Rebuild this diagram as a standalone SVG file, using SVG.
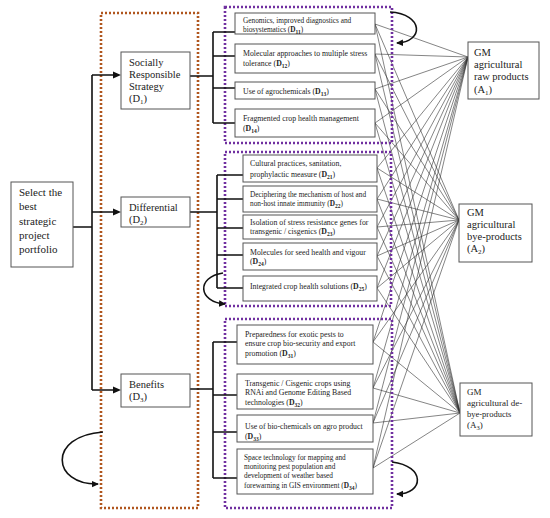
<svg xmlns="http://www.w3.org/2000/svg" width="550" height="518" viewBox="0 0 550 518">
<style>
text{font-family:"Liberation Serif","Times New Roman",serif;fill:#222}
.box{fill:#fff;stroke:#555;stroke-width:1}
.big{font-size:10.5px}
.sm{font-size:7.8px}
.xs{font-size:7.3px}
.conn{stroke:#111;stroke-width:1.6;fill:none}
.edge{stroke:#333;stroke-width:0.6;fill:none}
.arc{stroke:#111;stroke-width:1.6;fill:none;marker-end:url(#ah)}
.brown{fill:none;stroke:#b0561e;stroke-width:2.6;stroke-dasharray:2 2}
.purple{fill:none;stroke:#7030a0;stroke-width:2.6;stroke-dasharray:2 2}
</style>
<defs>
<marker id="ah" markerWidth="8" markerHeight="8" refX="6" refY="4" orient="auto" markerUnits="userSpaceOnUse">
<path d="M0,0.8 L7,4 L0,7.2 Z" fill="#111"/>
</marker>
</defs>
<rect width="550" height="518" fill="#fff"/>

<!-- edges -->
<g id="edges">
<g class="edge">
<path d="M375,24L468,57M375,24L459,220M375,24L460,413"/>
<path d="M375,54L468,57M375,54L459,220M375,54L460,413"/>
<path d="M375,89L468,57M375,89L459,220M375,89L460,413"/>
<path d="M375,123L468,57M375,123L459,220M375,123L460,413"/>
<path d="M377,168L468,57M377,168L459,220M377,168L460,413"/>
<path d="M377,199L468,57M377,199L459,220M377,199L460,413"/>
<path d="M377,227L468,57M377,227L459,220M377,227L460,413"/>
<path d="M377,256L468,57M377,256L459,220M377,256L460,413"/>
<path d="M377,288L468,57M377,288L459,220M377,288L460,413"/>
<path d="M373,342L468,57M373,342L459,220M373,342L460,413"/>
<path d="M373,388L468,57M373,388L459,220M373,388L460,413"/>
<path d="M373,423L468,57M373,423L459,220M373,423L460,413"/>
<path d="M373,468L468,57M373,468L459,220M373,468L460,413"/>
</g>
</g>

<!-- dotted groupings -->
<rect class="brown" x="101" y="13" width="97" height="495"/>
<rect class="purple" x="225" y="7" width="167" height="136"/>
<rect class="purple" x="225" y="152" width="166" height="154"/>
<rect class="purple" x="225" y="319" width="167" height="189"/>

<!-- connectors -->
<g id="connectors">
<path class="conn" d="M73,227H92M92,75V390"/>
<path class="conn" d="M92,75H114M92,212H114M92,390H114"/>
<path d="M113,71.5L121,75L113,78.5Z M113,208.5L121,212L113,215.5Z M113,386.5L121,390L113,393.5Z" fill="#111"/>
<path class="conn" d="M190,76H213M213,32V123M213,32H235M213,56H235M213,88H235M213,123H235"/>
<path class="conn" d="M190,212H217M217,175V288M217,175H243M217,199H243M217,228H243M217,255H243M217,288H243"/>
<path class="conn" d="M190,389H213M213,342V478M213,342H237M213,395H237M213,432H237M213,478H237"/>
<path class="arc" d="M390,12C424,14,424,42,397,43"/>
<path class="arc" d="M223,273C196,277,198,302,225,304"/>
<path class="arc" d="M392,462C426,466,424,494,397,494"/>
<path class="arc" d="M103,432C47,436,52,485,98,484"/>
</g>

<g id="root">
<rect class="box" x="11" y="182" width="62" height="85"/>
<text x="19" font-size="11"><tspan x="19" y="196">Select the</tspan><tspan x="19" y="210">best</tspan><tspan x="19" y="224.5">strategic</tspan><tspan x="19" y="239">project</tspan><tspan x="19" y="253">portfolio</tspan></text>
</g>

<g id="D1">
<rect class="box" x="121" y="52" width="69" height="57"/>
<text class="big"><tspan x="129" y="66">Socially</tspan><tspan x="129" y="78">Responsible</tspan><tspan x="129" y="90">Strategy</tspan><tspan x="129" y="102">(D<tspan dy="2" font-size="7">1</tspan><tspan dy="-2">)</tspan></tspan></text>
</g>
<g id="D2">
<rect class="box" x="121" y="197" width="69" height="30"/>
<text class="big"><tspan x="129" y="211">Differential</tspan><tspan x="129" y="223">(D<tspan dy="2" font-size="7">2</tspan><tspan dy="-2">)</tspan></tspan></text>
</g>
<g id="D3">
<rect class="box" x="121" y="374" width="69" height="33"/>
<text class="big"><tspan x="129" y="388">Benefits</tspan><tspan x="129" y="400">(D<tspan dy="2" font-size="7">3</tspan><tspan dy="-2">)</tspan></tspan></text>
</g>

<g id="D11">
<rect class="box" x="235" y="13" width="140" height="21"/>
<text class="xs"><tspan x="243" y="23">Genomics, improved diagnostics and</tspan><tspan x="243" y="32">biosystematics (<tspan font-weight="bold">D<tspan dy="1.5" font-size="5.5">11</tspan></tspan><tspan dy="-1.5">)</tspan></tspan></text>
</g>
<g id="D12">
<rect class="box" x="235" y="44" width="140" height="29"/>
<text class="sm"><tspan x="243" y="56">Molecular approaches to multiple stress</tspan><tspan x="243" y="66">tolerance (<tspan font-weight="bold">D<tspan dy="1.5" font-size="5.5">12</tspan></tspan><tspan dy="-1.5">)</tspan></tspan></text>
</g>
<g id="D13">
<rect class="box" x="235" y="82" width="140" height="17"/>
<text class="sm"><tspan x="243" y="94">Use of agrochemicals (<tspan font-weight="bold">D<tspan dy="1.5" font-size="5.5">13</tspan></tspan><tspan dy="-1.5">)</tspan></tspan></text>
</g>
<g id="D14">
<rect class="box" x="235" y="109" width="140" height="28"/>
<text class="sm"><tspan x="243" y="121">Fragmented crop health management</tspan><tspan x="243" y="131">(<tspan font-weight="bold">D<tspan dy="1.5" font-size="5.5">14</tspan></tspan><tspan dy="-1.5">)</tspan></tspan></text>
</g>

<g id="D21">
<rect class="box" x="243" y="155" width="134" height="27"/>
<text class="sm"><tspan x="250" y="166">Cultural practices, sanitation,</tspan><tspan x="250" y="177">prophylactic measure (<tspan font-weight="bold">D<tspan dy="1.5" font-size="5.5">21</tspan></tspan><tspan dy="-1.5">)</tspan></tspan></text>
</g>
<g id="D22">
<rect class="box" x="243" y="186" width="134" height="26"/>
<text class="xs"><tspan x="250" y="196.5">Deciphering the mechanism of host and</tspan><tspan x="250" y="206">non-host innate immunity (<tspan font-weight="bold">D<tspan dy="1.5" font-size="5.5">22</tspan></tspan><tspan dy="-1.5">)</tspan></tspan></text>
</g>
<g id="D23">
<rect class="box" x="243" y="215" width="134" height="24"/>
<text class="sm"><tspan x="250" y="225">Isolation of stress resistance genes for</tspan><tspan x="250" y="234">transgenic / cisgenics (<tspan font-weight="bold">D<tspan dy="1.5" font-size="5.5">23</tspan></tspan><tspan dy="-1.5">)</tspan></tspan></text>
</g>
<g id="D24">
<rect class="box" x="243" y="243" width="134" height="27"/>
<text class="sm"><tspan x="250" y="254.5">Molecules for seed health and vigour</tspan><tspan x="250" y="264">(<tspan font-weight="bold">D<tspan dy="1.5" font-size="5.5">24</tspan></tspan><tspan dy="-1.5">)</tspan></tspan></text>
</g>
<g id="D25">
<rect class="box" x="243" y="276" width="134" height="25"/>
<text class="sm"><tspan x="250" y="289">Integrated crop health solutions (<tspan font-weight="bold">D<tspan dy="1.5" font-size="5.5">25</tspan></tspan><tspan dy="-1.5">)</tspan></tspan></text>
</g>

<g id="D31">
<rect class="box" x="237" y="325" width="136" height="39"/>
<text class="sm"><tspan x="245" y="337">Preparedness for exotic pests to</tspan><tspan x="245" y="346">ensure crop bio-security and export</tspan><tspan x="245" y="356">promotion (<tspan font-weight="bold">D<tspan dy="1.5" font-size="5.5">31</tspan></tspan><tspan dy="-1.5">)</tspan></tspan></text>
</g>
<g id="D32">
<rect class="box" x="237" y="374" width="136" height="35"/>
<text class="sm"><tspan x="245" y="386">Transgenic / Cisgenic crops using</tspan><tspan x="245" y="395">RNAi and Genome Editing Based</tspan><tspan x="245" y="405">technologies (<tspan font-weight="bold">D<tspan dy="1.5" font-size="5.5">32</tspan></tspan><tspan dy="-1.5">)</tspan></tspan></text>
</g>
<g id="D33">
<rect class="box" x="237" y="415" width="136" height="27"/>
<text class="sm"><tspan x="245" y="429">Use of bio-chemicals on agro product</tspan><tspan x="245" y="439">(<tspan font-weight="bold">D<tspan dy="1.5" font-size="5.5">33</tspan></tspan><tspan dy="-1.5">)</tspan></tspan></text>
</g>
<g id="D34">
<rect class="box" x="237" y="449" width="136" height="45"/>
<text class="xs"><tspan x="244" y="460">Space technology for mapping and</tspan><tspan x="244" y="469">monitoring pest population and</tspan><tspan x="244" y="478">development of weather based</tspan><tspan x="244" y="488">forewarning in GIS environment (<tspan font-weight="bold">D<tspan dy="1.5" font-size="5.5">34</tspan></tspan><tspan dy="-1.5">)</tspan></tspan></text>
</g>

<g id="A1">
<rect class="box" x="468" y="42" width="71" height="57"/>
<text class="big"><tspan x="474" y="56">GM</tspan><tspan x="474" y="68">agricultural</tspan><tspan x="474" y="80">raw products</tspan><tspan x="474" y="93">(A<tspan dy="2" font-size="7">1</tspan><tspan dy="-2">)</tspan></tspan></text>
</g>
<g id="A2">
<rect class="box" x="459" y="204" width="73" height="58"/>
<text class="big"><tspan x="467" y="216">GM</tspan><tspan x="467" y="228">agricultural</tspan><tspan x="467" y="240">bye-products</tspan><tspan x="467" y="252">(A<tspan dy="2" font-size="7">2</tspan><tspan dy="-2">)</tspan></tspan></text>
</g>
<g id="A3">
<rect class="box" x="460" y="383" width="72" height="53"/>
<text font-size="9"><tspan x="467" y="395">GM</tspan><tspan x="467" y="406">agricultural de-</tspan><tspan x="467" y="417" font-size="8.5">bye-products</tspan><tspan x="467" y="428">(A<tspan dy="2" font-size="6.5">3</tspan><tspan dy="-2">)</tspan></tspan></text>
</g>
</svg>
